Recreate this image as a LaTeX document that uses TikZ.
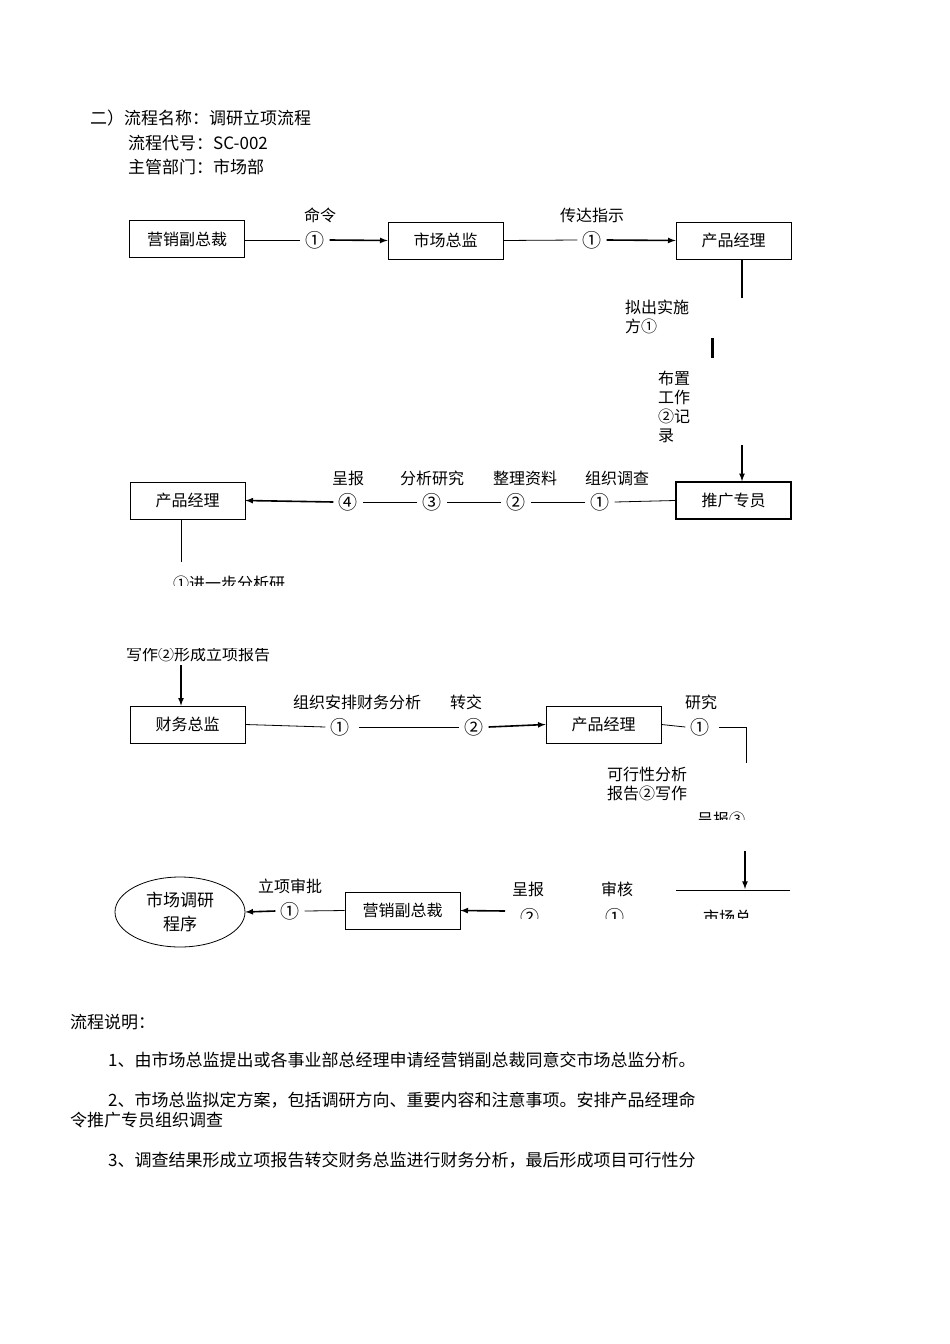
\documentclass[tikz,border=0pt]{standalone}
\usepackage{fontspec}
\setmainfont{Noto Sans CJK SC}
\usetikzlibrary{shapes.geometric}
\begin{document}
\begin{tikzpicture}[x=1pt,y=-1pt,font=\fontsize{16}{19}\selectfont,
 box/.style={draw,line width=0.8pt,minimum width=115pt,minimum height=37pt,inner sep=0pt},
 tbox/.style={box,line width=1.6pt},
 t/.style={inner sep=0pt,anchor=center},
 c/.style={inner sep=5pt,anchor=center,font=\fontsize{19}{19}\selectfont},
 tl/.style={inner sep=0pt,anchor=west,align=left},
 ln/.style={line width=0.8pt},
 ar/.style={line width=1.6pt,-latex}]
\useasboundingbox (0,0) rectangle (950,1344);
\node[tl,font=\fontsize{17}{20}\selectfont] (h1) at (90,118) {二）流程名称：调研立项流程};
\node[tl,font=\fontsize{17}{20}\selectfont] (h2) at (128,143) {流程代号：SC-002};
\node[tl,font=\fontsize{17}{20}\selectfont] (h3) at (128,167) {主管部门：市场部};
% row 1
\node[tbox] (a) at (187,239) {营销副总裁};
\node[box] (b) at (445.5,240.5) {市场总监};
\node[box] (c) at (733.5,240.5) {产品经理};
\node[t] (l1) at (320,215) {命令};
\node[c] (n1) at (315,240) {①};
\node[t] (l2) at (592,215) {传达指示};
\node[c] (n2) at (592,240) {①};
\draw[ln] (a.east|-0,240) -- (n1.west);
\draw[ar] (n1.east) -- (b.west);
\draw[ln] (b.east) -- (n2.west);
\draw[ar] (n2.east) -- (c.west);
\coordinate (v1) at (742,298);
\draw[line width=1.6pt] (c.south-|v1) -- (v1);
\node[tl] (t1) at (625,317) {拟出实施\\方①};
\coordinate (s1) at (712,338); \coordinate (s2) at (712,358);
\draw[line width=3pt] (s1) -- (s2);
\node[tl] (t2) at (658,407) {布置\\工作\\②记\\录};
% row 2
\node[tbox] (d) at (733.5,500.5) {推广专员};
\node[box] (e) at (187.5,500.5) {产品经理};
\coordinate (v2) at (742,445);
\draw[ar] (v2) -- (d.north-|v2);
\node[t] (l3) at (348,478) {呈报}; \node[c] (m4) at (348,502) {④};
\node[t] (l4) at (432,478) {分析研究}; \node[c] (m3) at (432,502) {③};
\node[t] (l5) at (525,478) {整理资料}; \node[c] (m2) at (516,502) {②};
\node[t] (l6) at (617,478) {组织调查}; \node[c] (m1) at (600,502) {①};
\draw[ln] (d.west) -- (m1.east);
\draw[ln] (m1.west) -- (m2.east);
\draw[ln] (m2.west) -- (m3.east);
\draw[ln] (m3.west) -- (m4.east);
\draw[ar] (m4.west) -- (e.east);
\coordinate (v3) at (181,562);
\draw[ln] (e.south-|v3) -- (v3);
\begin{scope}
\clip (100,560) rectangle (400,585);
\node[tl] (t3) at (173,583) {①进一步分析研};
\end{scope}
\begin{scope}
\clip (100,648) rectangle (400,670);
\node[tl] (t4) at (126,654) {写作②形成立项报告};
\end{scope}
% row 3
\coordinate (v4) at (181,665);
\node[box] (f) at (187.5,724.5) {财务总监};
\node[box] (g) at (603.5,724.5) {产品经理};
\draw[ar] (v4) -- (f.north-|v4);
\node[t] (l7) at (357,702) {组织安排财务分析}; \node[c] (k1) at (340,727) {①};
\node[t] (l8) at (466,702) {转交}; \node[c] (k2) at (474,727) {②};
\node[t] (l9) at (701,702) {研究}; \node[c] (k3) at (700,727) {①};
\draw[ln] (f.east) -- (k1.west);
\draw[ln] (k1.east) ++(4,0) -- (k2.west);
\draw[ar] (k2.east) -- (g.west);
\draw[ln] (g.east) -- (k3.west);
\coordinate (v5) at (746,763);
\draw[ln] (k3.east) ++(4,0) -- (746,727) -- (v5);
\node[tl] (t5) at (607,784) {可行性分析\\报告②写作};
\begin{scope}
\clip (650,800) rectangle (800,819);
\node[tl] (t6) at (697,819) {呈报③};
\end{scope}
% row 4
\coordinate (v6) at (745,851);
\coordinate (hl) at (676,890); \coordinate (hr) at (790,890);
\draw[ln] (hl) -- (hr);
\draw[ar] (v6) -- (745,889);
\begin{scope}
\clip (480,895) rectangle (800,918);
\node[tl] (t7) at (703,917) {市场总};
\node[c] (p2) at (530,917) {②};
\node[c] (p1) at (615,917) {①};
\end{scope}
\node[t] (l10) at (528,889) {呈报};
\node[t] (l11) at (617,889) {审核};
\node[box] (h) at (402.5,910.5) {营销副总裁};
\coordinate (q) at (505,911);
\draw[ar] (q) -- (h.east);
\node[draw,ellipse,line width=0.8pt,minimum width=130pt,minimum height=70pt,align=center,font=\fontsize{17}{24}\selectfont] (i) at (180,912) {市场调研\\程序};
\node[t] (l12) at (290,886) {立项审批}; \node[c] (r1) at (290,911) {①};
\draw[ln] (h.west) -- (r1.east);
\draw[ar] (r1.west) -- (i.east);
% footer
\begin{scope}[font=\fontsize{17}{20}\selectfont]
\node[tl] (f0) at (70,1022) {流程说明：};
\node[tl] (f1) at (108,1060) {1、由市场总监提出或各事业部总经理申请经营销副总裁同意交市场总监分析。};
\node[tl] (f2) at (108,1100) {2、市场总监拟定方案，包括调研方向、重要内容和注意事项。安排产品经理命};
\node[tl] (f3) at (70,1120) {令推广专员组织调查};
\node[tl] (f4) at (108,1160) {3、调查结果形成立项报告转交财务总监进行财务分析，最后形成项目可行性分};
\end{scope}
\end{tikzpicture}
\end{document}
